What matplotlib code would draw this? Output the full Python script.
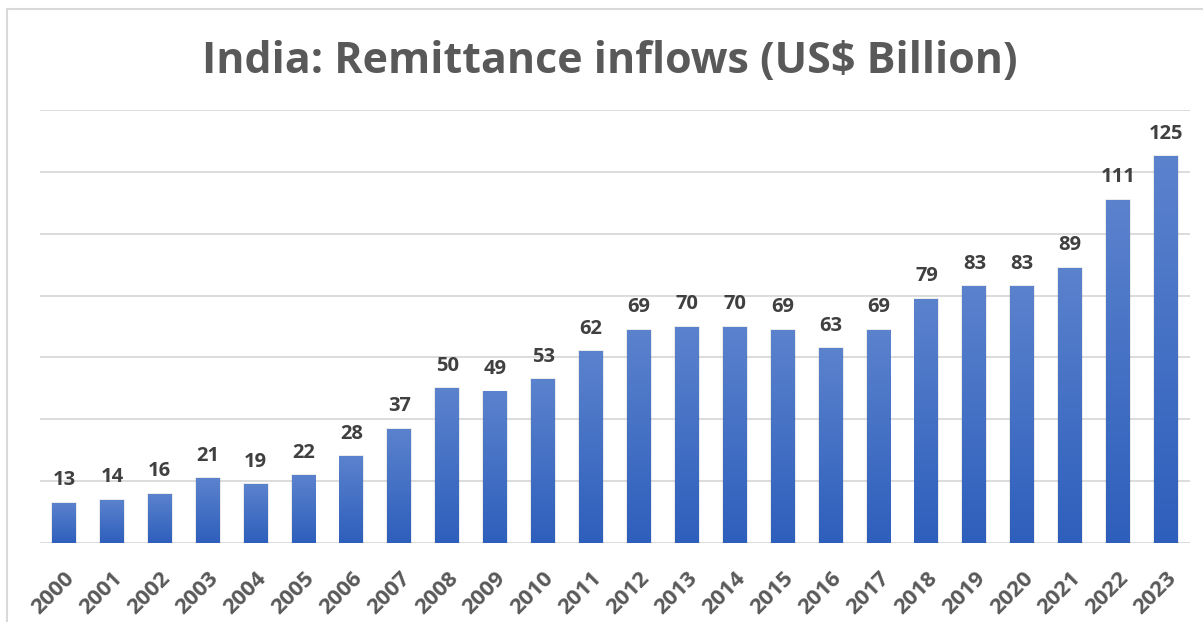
import matplotlib
matplotlib.use("Agg")
import matplotlib.pyplot as plt
import numpy as np
from matplotlib.colors import LinearSegmentedColormap
from matplotlib.patches import Rectangle

years = [str(y) for y in range(2000, 2024)]
values = [13, 14, 16, 21, 19, 22, 28, 37, 50, 49, 53, 62, 69, 70, 70, 69, 63, 69, 79, 83, 83, 89, 111, 125]

title = "India: Remittance inflows (US$ Billion)"

W, H = 1203, 622
fig = plt.figure(figsize=(W / 100, H / 100), dpi=100)
fig.patch.set_facecolor("white")

# outer chart border (light gray)
border = Rectangle((7 / W, -0.05), 1.2, 1.05 - 9 / H, transform=fig.transFigure,
                   fill=False, edgecolor="#d9d9d9", linewidth=1.5)
fig.add_artist(border)

ax_l, ax_r = 40 / W, 1190 / W
ax_b, ax_t = 1 - 543 / H, 1 - 110 / H
ax = fig.add_axes([ax_l, ax_b, ax_r - ax_l, ax_t - ax_b])
ax.set_xlim(-0.5, len(years) - 0.5)
ax.set_ylim(0, 140)
ax.set_yticks(np.arange(0, 141, 20))
ax.yaxis.grid(True, color="#d9d9d9", linewidth=1.3)
ax.set_axisbelow(True)
for s in ax.spines.values():
    s.set_visible(False)
ax.tick_params(axis="y", length=0, labelleft=False)
ax.tick_params(axis="x", length=0, pad=18)

cmap = LinearSegmentedColormap.from_list("g", ["#2e5fbc", "#5b82cd"])
grad = np.linspace(0, 1, 256).reshape(-1, 1)
x = np.arange(len(years))
bw = 0.5
bars = ax.bar(x, values, width=bw, color="none", edgecolor="none", zorder=2)
for b in bars:
    x0, y0 = b.get_x(), b.get_y()
    w, h = b.get_width(), b.get_height()
    # subtle shadow
    sh = Rectangle((x0 - 0.02, y0), w + 0.04, h + 0.3, facecolor="#000000", alpha=0.08,
                   edgecolor="none", zorder=1.5)
    ax.add_patch(sh)
    im = ax.imshow(grad, extent=[x0, x0 + w, y0, y0 + h], origin="lower", cmap=cmap,
                   aspect="auto", zorder=2)
    im.set_clip_path(b)

for xi, v in zip(x, values):
    ax.text(xi, v + 4, str(v), ha="center", va="bottom", fontsize=14.5,
            fontweight="bold", color="#404040", family="Open Sans")

ax.set_xticks(x)
ax.set_xticklabels(years, rotation=45, ha="right", rotation_mode="anchor",
                   fontsize=16, fontweight="bold", color="#595959", family="Open Sans")

fig.text(610 / W, 1 - 73 / H, title, ha="center", va="baseline", fontsize=31,
         fontweight="bold", color="#595959", family="Open Sans")

fig.savefig("out.png", dpi=100, facecolor="white")
